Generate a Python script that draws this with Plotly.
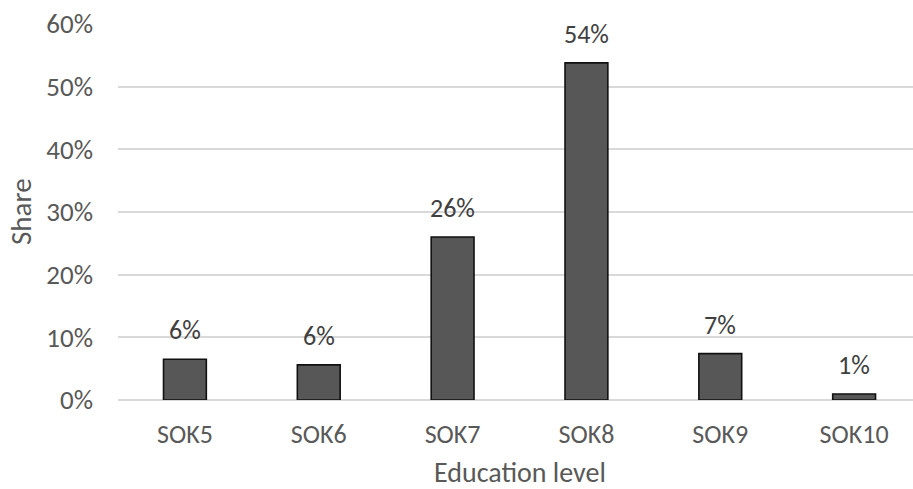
import plotly.graph_objects as go

# Share of respondents by education level
levels = ["SOK5", "SOK6", "SOK7", "SOK8", "SOK9", "SOK10"]
shares = [0.065, 0.056, 0.26, 0.538, 0.074, 0.0096]
y_ticks = [0, 0.1, 0.2, 0.3, 0.4, 0.5, 0.6]

FONT = "Carlito, Lato, sans-serif"
AXIS_GREY = "#595959"
LABEL_GREY = "#404040"
GRID = "#d9d9d9"
SIZE = 26
TITLE_SIZE = 29

fig = go.Figure()
fig.add_trace(go.Bar(
    x=list(range(len(levels))),
    y=shares,
    width=0.32,
    marker=dict(color="#575757", line=dict(color="#111111", width=1.6)),
    hoverinfo="skip",
))

# value labels above each bar
for i, v in enumerate(shares):
    fig.add_annotation(
        x=i, y=v, xref="x", yref="y",
        text=f"{v:.0%}", showarrow=False,
        yanchor="middle", yshift=29,
        font=dict(family=FONT, size=SIZE, color=LABEL_GREY),
    )

# axis titles
fig.add_annotation(
    x=(len(levels) - 1) / 2, y=0, xref="x", yref="paper",
    text="Education level", showarrow=False,
    yanchor="bottom", yshift=-92,
    font=dict(family=FONT, size=28, color=AXIS_GREY),
)
fig.add_annotation(
    x=0, y=0.5, xref="paper", yref="paper",
    text="Share", showarrow=False, textangle=-90,
    xanchor="center", xshift=-97,
    font=dict(family=FONT, size=TITLE_SIZE, color=AXIS_GREY),
)

fig.update_layout(
    width=913, height=489,
    margin=dict(l=118, r=0, t=24, b=89),
    paper_bgcolor="white", plot_bgcolor="white",
    showlegend=False,
    font=dict(family=FONT, size=SIZE, color=AXIS_GREY),
    xaxis=dict(
        range=[-0.5, 5.44],
        tickmode="array",
        tickvals=list(range(len(levels))),
        ticktext=levels,
        showgrid=False, zeroline=False, showline=False,
        ticks="", ticklabelstandoff=16,
        tickfont=dict(family=FONT, size=SIZE, color=AXIS_GREY),
    ),
    yaxis=dict(
        range=[0, 0.6],
        tickmode="array",
        tickvals=y_ticks,
        tickformat=".0%",
        showgrid=True, gridcolor=GRID, gridwidth=2,
        zeroline=True, zerolinecolor=GRID, zerolinewidth=2,
        showline=False, ticks="", ticklabelstandoff=24,
        tickfont=dict(family=FONT, size=27, color=AXIS_GREY),
    ),
)

fig.write_html("out.html")
